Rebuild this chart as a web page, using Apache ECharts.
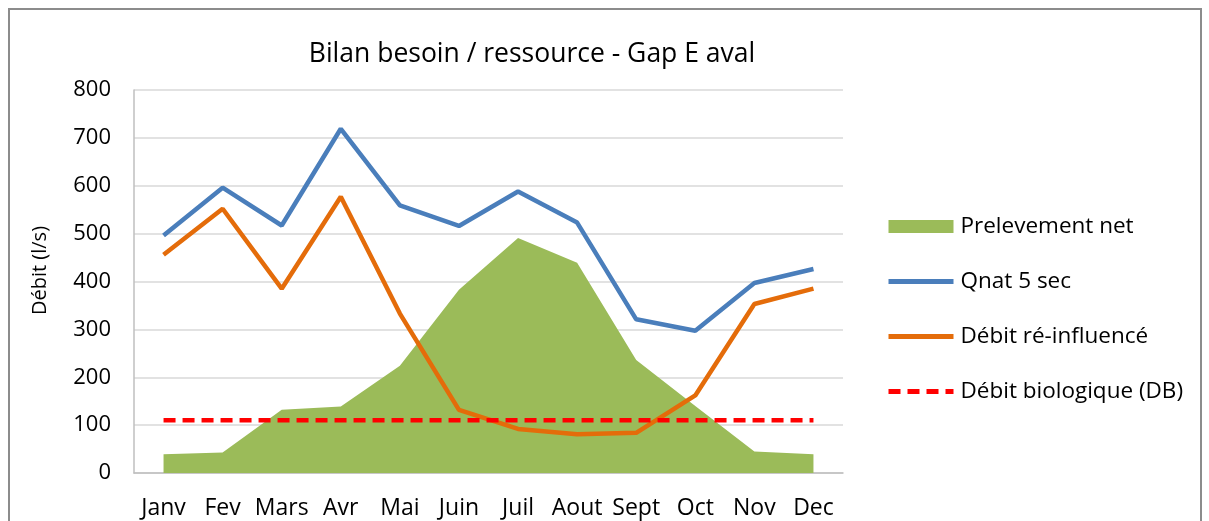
<!DOCTYPE html>
<html>
<head>
<meta charset="utf-8">
<script src="https://cdn.jsdelivr.net/npm/echarts@6/dist/echarts.min.js"></script>
<style>
html,body{margin:0;padding:0;background:#fff;}
#c{width:1209px;height:521px;}
</style>
</head>
<body>
<div id="c"></div>
<script>
const categories = ['Janv','Fev','Mars','Avr','Mai','Juin','Juil','Aout','Sept','Oct','Nov','Dec'];
const yTicks = [0,100,200,300,400,500,600,700,800];
const prelevementNet = [39,43,132,139,224,383,491,439,236,140,45,39];
const qnat5sec = [496,596,517,719,559,516,588,523,321,297,397,426];
const debitReinfluence = [456,552,385,577,333,132,92,81,84,162,353,385];
const debitBiologique = [110,110,110,110,110,110,110,110,110,110,110,110];

const FONT = 'Open Sans';
const C_GREEN = '#9bbb59', C_BLUE = '#4a7ebb', C_ORANGE = '#e46c0a', C_RED = '#ff0000';
const DASH = [12, 7];
const chart = echarts.init(document.getElementById('c'));
chart.setOption({
  animation: false,
  textStyle: {fontFamily: FONT},
  title: {
    text: 'Bilan besoin / ressource - Gap E aval',
    left: 527, top: 36, textAlign: 'center',
    textStyle: {fontFamily: FONT, fontSize: 26.5, fontWeight: 'normal', color: '#000'}
  },
  graphic: [{
    type: 'rect', shape: {x: 9, y: 9, width: 1192, height: 540},
    style: {fill: 'none', stroke: '#8c8c8c', lineWidth: 2}, silent: true
  }],
  legend: {
    orient: 'vertical', left: 886, top: 215, itemGap: 32, padding: 0,
    itemWidth: 65, itemHeight: 13,
    textStyle: {fontFamily: FONT, fontSize: 22.5, color: '#000', padding: [0,0,0,2]},
    data: [
      {name: 'Prelevement net', icon: 'rect', itemStyle: {color: C_GREEN, opacity: 1}},
      {name: 'Qnat 5 sec', itemStyle: {opacity: 0}, lineStyle: {width: 5, color: C_BLUE}},
      {name: 'Débit ré-influencé', itemStyle: {opacity: 0}, lineStyle: {width: 5, color: C_ORANGE}},
      {name: 'Débit biologique (DB)', itemStyle: {opacity: 0}, lineStyle: {width: 5, color: C_RED, type: DASH}}
    ]
  },
  grid: {left: 134, right: 366, top: 90, bottom: 48, containLabel: false},
  xAxis: {
    type: 'category', data: categories, boundaryGap: true,
    axisLine: {lineStyle: {color: '#bfbfbf', width: 1.5}},
    axisTick: {show: false},
    axisLabel: {fontFamily: FONT, fontSize: 23, color: '#000', margin: 24, interval: 0}
  },
  yAxis: {
    type: 'value', min: 0, max: 800, interval: 100,
    name: 'Débit (l/s)', nameLocation: 'middle', nameGap: 84, nameRotate: 90,
    nameTextStyle: {fontFamily: FONT, fontSize: 20, color: '#000', padding: [0,0,0,22]},
    axisLine: {show: true, lineStyle: {color: '#bfbfbf', width: 1.5}},
    axisTick: {show: false},
    axisLabel: {fontFamily: FONT, fontSize: 22, color: '#000', margin: 23,
      formatter: v => yTicks.includes(v) ? String(v) : ''},
    splitLine: {lineStyle: {color: '#d9d9d9', width: 1.5}}
  },
  series: [
    {
      name: 'Prelevement net', type: 'line', data: prelevementNet,
      symbol: 'none', itemStyle: {color: C_GREEN},
      lineStyle: {width: 0, color: C_GREEN},
      areaStyle: {color: C_GREEN, opacity: 1}, z: 1
    },
    {
      name: 'Qnat 5 sec', type: 'line', data: qnat5sec, symbol: 'none',
      itemStyle: {color: C_BLUE}, lineStyle: {width: 4.5, color: C_BLUE}, z: 3
    },
    {
      name: 'Débit ré-influencé', type: 'line', data: debitReinfluence, symbol: 'none',
      itemStyle: {color: C_ORANGE}, lineStyle: {width: 4.5, color: C_ORANGE}, z: 3
    },
    {
      name: 'Débit biologique (DB)', type: 'line', data: debitBiologique, symbol: 'none',
      itemStyle: {color: C_RED},
      lineStyle: {width: 4.5, color: C_RED, type: DASH}, z: 4
    }
  ]
});
</script>
</body>
</html>
